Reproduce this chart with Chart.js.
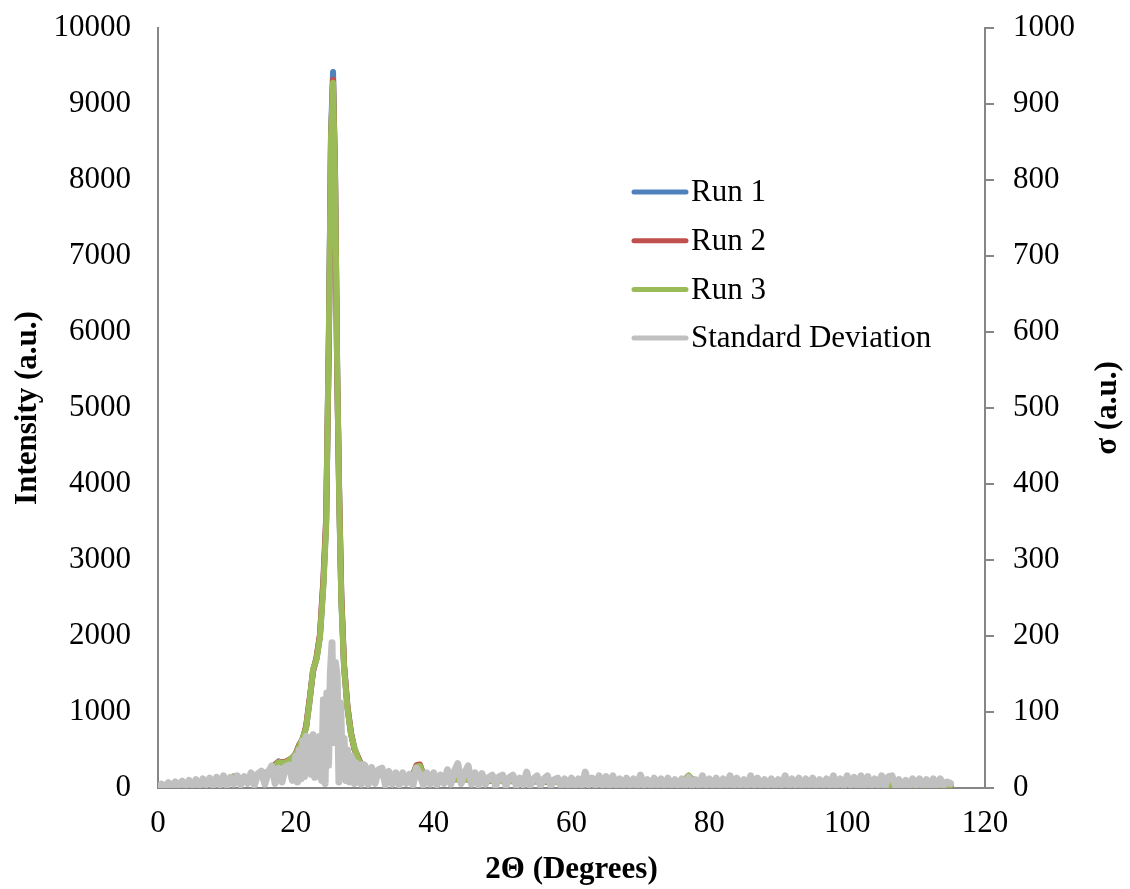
<!DOCTYPE html>
<html>
<head>
<meta charset="utf-8">
<script src="https://cdn.jsdelivr.net/npm/chart.js@4.4.1/dist/chart.umd.min.js"></script>
<style>
  html, body { margin: 0; padding: 0; background: #fff; }
  #wrap { width: 1130px; height: 889px; }
</style>
</head>
<body>
<div id="wrap"><canvas id="xrd" width="1130" height="889"></canvas></div>
<script>
// 2-theta positions of the three diffraction runs
const runAngles = [
  0, 1, 2, 3, 4, 5, 6, 7, 8, 9, 10, 11, 12, 13, 14, 15, 16, 17,
  17.5, 18, 18.5, 19, 19.5, 20, 20.5, 21, 21.5, 22, 22.5, 23, 23.5, 24,
  24.4, 24.8, 25.1, 25.4, 25.7, 26, 26.3, 26.6,
  27, 27.5, 28, 28.5, 29, 29.5, 30,
  31, 32, 33, 34, 35, 36, 37,
  37.5, 38, 38.5,
  39, 40,
  42, 44, 46, 48, 50, 52, 54, 56, 58, 60, 62, 64, 66, 68, 70, 72, 74, 76,
  77,
  78, 80, 82, 84, 86, 88, 90, 92, 94, 96, 98, 100, 102, 104, 106, 108, 110, 112, 114,
  115
];

const run1 = [
  10, 25, 40, 50, 60, 65, 75, 85, 90, 100, 110, 150, 120, 130, 150, 170, 210, 300,
  350, 330, 340, 365, 400, 450, 560, 650, 800, 1150, 1550, 1700, 2000, 2700,
  3500, 6000, 8600, 9420, 8000, 5500, 3800, 2500,
  1600, 1050, 720, 520, 400, 300, 250,
  200, 180, 160, 140, 125, 130, 170,
  290, 300, 170,
  140, 120,
  110, 120, 105, 100, 95, 90, 90, 85, 80, 80, 80, 75, 75, 70, 70, 70, 65, 70,
  160,
  70, 65, 65, 60, 60, 60, 55, 55, 55, 50, 50, 50, 45, 45, 45, 40, 40, 40, 35,
  30
];

const run2 = [
  15, 20, 45, 55, 55, 70, 80, 80, 95, 105, 115, 140, 125, 135, 155, 175, 215, 310,
  345, 335, 345, 370, 395, 455, 570, 640, 820, 1170, 1530, 1720, 2020, 2750,
  3550, 5900, 8500, 9320, 8050, 5450, 3850, 2550,
  1620, 1070, 730, 510, 410, 310, 245,
  205, 175, 165, 135, 130, 135, 175,
  300, 310, 175,
  135, 125,
  115, 115, 110, 95, 100, 85, 95, 80, 85, 75, 80, 80, 70, 75, 65, 75, 70, 65,
  150,
  75, 60, 70, 55, 65, 55, 60, 50, 60, 45, 55, 45, 50, 40, 50, 35, 45, 35, 40,
  25
];

const run3 = [
  5, 30, 35, 45, 65, 60, 70, 90, 85, 95, 105, 155, 115, 125, 145, 165, 205, 290,
  340, 325, 335, 360, 405, 445, 550, 660, 790, 1140, 1560, 1690, 1980, 2650,
  3450, 6050, 8550, 9280, 7950, 5550, 3750, 2450,
  1580, 1040, 710, 530, 390, 295, 255,
  195, 185, 155, 145, 120, 125, 165,
  280, 290, 165,
  145, 115,
  105, 125, 100, 105, 90, 95, 85, 90, 75, 85, 75, 70, 80, 65, 75, 65, 60, 75,
  165,
  65, 70, 60, 65, 55, 65, 50, 60, 50, 55, 45, 55, 40, 50, 40, 45, 35, 40, 30,
  35
];

// sigma is sampled every 0.5 deg, every 0.25 deg between 20 and 30
function range(start, stop, step) {
  const out = [];
  for (let v = start; v <= stop + 1e-9; v += step) out.push(Math.round(v * 100) / 100);
  return out;
}
const sigmaAngles = [...range(0, 19.5, 0.5), ...range(20, 29.75, 0.25), ...range(30, 115, 0.5)];

const sigma = [
  1, 5, 1, 7, 2, 8, 3, 9, 2, 10,            // 0 - 4.5
  3, 11, 2, 12, 4, 13, 3, 14, 4, 16,        // 5 - 9.5
  3, 14, 5, 16, 4, 15, 6, 20, 4, 19,        // 10 - 14.5
  22, 5, 21, 29, 6, 26, 8, 28, 30, 10,      // 15 - 19.5
  42, 8, 50, 12, 62, 15, 68, 20, 66, 18,    // 20 - 22.25
  70, 14, 66, 22, 68, 10, 116, 6, 125, 30,  // 22.5 - 24.75
  150, 191, 60, 165, 147, 8, 112, 20, 65, 10, // 25 - 27.25
  50, 8, 42, 37, 6, 33, 8, 30, 5, 31,       // 27.5 - 29.75
  30, 5, 27, 6, 24, 26, 4, 22, 5, 20,       // 30 - 34.5
  4, 20, 6, 18, 4, 26, 18, 4, 20, 5,        // 35 - 39.5
  20, 4, 17, 6, 24, 5, 22, 32, 6, 20,       // 40 - 44.5
  29, 5, 20, 4, 19, 5, 14, 17, 3, 15,       // 45 - 49.5
  17, 3, 14, 17, 3, 13, 4, 21, 3, 12,       // 50 - 54.5
  16, 3, 12, 16, 3, 11, 13, 2, 12, 3,       // 55 - 59.5
  13, 2, 12, 3, 21, 4, 13, 3, 16, 3,        // 60 - 64.5
  15, 2, 16, 3, 12, 2, 13, 3, 12, 2,        // 65 - 69.5
  17, 3, 11, 2, 13, 3, 12, 2, 13, 3,        // 70 - 74.5
  11, 2, 12, 3, 14, 2, 11, 3, 16, 2,        // 75 - 79.5
  12, 3, 13, 2, 12, 3, 16, 2, 13, 3,        // 80 - 84.5
  11, 2, 16, 3, 13, 2, 11, 3, 12, 2,        // 85 - 89.5
  11, 3, 16, 2, 12, 3, 13, 2, 12, 3,        // 90 - 94.5
  13, 2, 11, 3, 12, 2, 16, 3, 12, 2,        // 95 - 99.5
  16, 3, 14, 2, 16, 3, 15, 2, 12, 3,        // 100 - 104.5
  16, 2, 15, 16, 3, 11, 2, 10, 3, 12,       // 105 - 109.5
  3, 12, 2, 11, 3, 12, 2, 12, 4, 8,         // 110 - 114.5
  6                                          // 115
];

const xTicks = { min: 0, max: 120, step: 20 };
const intensityTicks = { min: 0, max: 10000, step: 1000 };
const sigmaTicks = { min: 0, max: 1000, step: 100 };

const FONT = '"Liberation Serif", "Times New Roman", serif';
const TICK_SIZE = 31;
const TITLE_SIZE = 31;
const AXIS_GREY = "#868686";

function points(xs, ys) {
  return ys.map((y, i) => ({ x: xs[i], y }));
}

// fixed axis band sizes so the plot area sits at 158..985 x 28..788
function fixWidth(w) {
  return (s) => {
    s.width = w;
    s.paddingTop = 10;
    s.paddingBottom = 10;
  };
}

// legend inside the plot and the right-hand axis title (reads upward)
const sideLabels = {
  id: "sideLabels",
  afterDraw(chart) {
    const { ctx, chartArea, scales } = chart;
    ctx.save();
    ctx.font = `${TICK_SIZE}px ${FONT}`;
    ctx.textBaseline = "middle";
    ctx.textAlign = "left";
    chart.data.datasets.forEach((ds, i) => {
      const y = chartArea.top + 164 + i * 48.7;
      const x0 = chartArea.left + 476;
      ctx.strokeStyle = ds.borderColor;
      ctx.lineWidth = 5;
      ctx.lineCap = "round";
      ctx.beginPath();
      ctx.moveTo(x0, y);
      ctx.lineTo(x0 + 52, y);
      ctx.stroke();
      ctx.fillStyle = "#000";
      ctx.fillText(ds.label, x0 + 57, y + 1);
    });
    const r = scales.y1;
    ctx.font = `bold ${TITLE_SIZE}px ${FONT}`;
    ctx.translate(r.right - 22, (chartArea.top + chartArea.bottom) / 2);
    ctx.rotate(-Math.PI / 2);
    ctx.textAlign = "center";
    ctx.fillStyle = "#000";
    ctx.fillText("σ (a.u.)", 0, 0);
    ctx.restore();
  }
};

const lineStyle = {
  pointRadius: 0,
  borderWidth: 6,
  tension: 0,
  borderJoinStyle: "round",
  borderCapStyle: "round",
  fill: false
};

const plain = (v) => String(v);

const ctx = document.getElementById("xrd").getContext("2d");
new Chart(ctx, {
  type: "line",
  data: {
    datasets: [
      { label: "Run 1", data: points(runAngles, run1), borderColor: "#4F81BD", yAxisID: "y", order: 4, ...lineStyle },
      { label: "Run 2", data: points(runAngles, run2), borderColor: "#C0504D", yAxisID: "y", order: 3, ...lineStyle },
      { label: "Run 3", data: points(runAngles, run3), borderColor: "#9BBB59", yAxisID: "y", order: 2, ...lineStyle },
      { label: "Standard Deviation", data: points(sigmaAngles, sigma), borderColor: "#C0C0C0", yAxisID: "y1", order: 1, ...lineStyle, borderWidth: 7 }
    ]
  },
  options: {
    responsive: false,
    animation: false,
    layout: { padding: { top: 28, left: 0, right: 0, bottom: 0 } },
    plugins: {
      legend: { display: false },
      tooltip: { enabled: false }
    },
    scales: {
      x: {
        type: "linear",
        min: xTicks.min,
        max: xTicks.max,
        afterFit: (s) => { s.height = 101; },
        grid: { display: false, drawTicks: false },
        border: { color: AXIS_GREY, width: 2 },
        ticks: { stepSize: xTicks.step, padding: 17, color: "#000", callback: plain, font: { family: FONT, size: TICK_SIZE } },
        title: {
          display: true,
          text: "2Θ (Degrees)",
          color: "#000",
          padding: { top: 0, bottom: 0 },
          font: { family: FONT, size: TITLE_SIZE, weight: "bold" }
        }
      },
      y: {
        position: "left",
        min: intensityTicks.min,
        max: intensityTicks.max,
        afterFit: fixWidth(158),
        grid: { display: false, drawTicks: false },
        border: { color: AXIS_GREY, width: 2 },
        ticks: { stepSize: intensityTicks.step, padding: 27, color: "#000", callback: plain, font: { family: FONT, size: TICK_SIZE } },
        title: {
          display: true,
          text: "Intensity (a.u.)",
          color: "#000",
          padding: { top: 9, bottom: 0 },
          font: { family: FONT, size: TITLE_SIZE, weight: "bold" }
        }
      },
      y1: {
        position: "right",
        min: sigmaTicks.min,
        max: sigmaTicks.max,
        afterFit: fixWidth(145),
        grid: { display: true, drawOnChartArea: false, drawTicks: true, tickLength: 9, color: AXIS_GREY, lineWidth: 2 },
        border: { color: AXIS_GREY, width: 2 },
        ticks: { stepSize: sigmaTicks.step, padding: 19, color: "#000", callback: plain, font: { family: FONT, size: TICK_SIZE } },
        title: { display: false }
      }
    }
  },
  plugins: [sideLabels]
});
</script>
</body>
</html>
